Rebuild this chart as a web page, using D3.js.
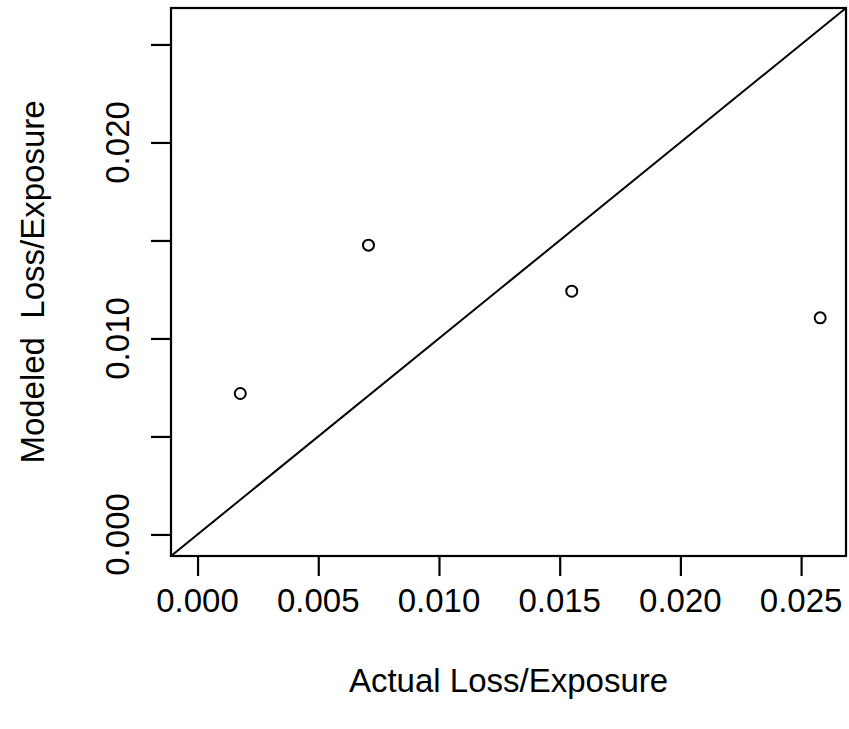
<!DOCTYPE html>
<html><head><meta charset="utf-8">
<script src="https://cdn.jsdelivr.net/npm/d3@7"></script>
<style>
html,body{margin:0;padding:0;background:#fff;}
text{font-family:"Liberation Sans",Arial,sans-serif;fill:#000;}
</style></head>
<body>
<svg id="chart" width="849" height="729"></svg>
<script>
const actual = [0.00177, 0.00708, 0.01550, 0.02579];
const modeled = [0.00719, 0.01476, 0.01241, 0.01105];
const axisLimits = [-0.0011, 0.02686];
const xTicks = [0, 0.005, 0.010, 0.015, 0.020, 0.025];
const yTicks = [0, 0.005, 0.010, 0.015, 0.020, 0.025];
const yTickLabels = [0, 0.010, 0.020];
const xTitle = "Actual Loss/Exposure";
const yTitle = "Modeled  Loss/Exposure";

const svg = d3.select("#chart");
const L = 171, R = 846, T = 8, B = 556;
const x = d3.scaleLinear().domain(axisLimits).range([L, R]);
const y = d3.scaleLinear().domain(axisLimits).range([B, T]);
const fmt = d3.format(".3f");
const fs = 33;

// x axis
const xa = svg.append("g").attr("transform", `translate(0,${B})`)
  .call(d3.axisBottom(x).tickValues(xTicks).tickSize(20).tickSizeOuter(0).tickFormat(""));
xa.select(".domain").remove();
xa.selectAll("line").attr("stroke", "#000").attr("stroke-width", 2.2);
svg.append("line").attr("x1", x(xTicks[0])).attr("x2", x(xTicks[xTicks.length-1]))
  .attr("y1", B).attr("y2", B).attr("stroke", "#000").attr("stroke-width", 2.2);
svg.append("g").selectAll("text").data(xTicks).join("text")
  .attr("x", d => x(d)).attr("y", 612).attr("text-anchor", "middle")
  .attr("font-size", fs).text(d => fmt(d));

// y axis
const ya = svg.append("g").attr("transform", `translate(${L},0)`)
  .call(d3.axisLeft(y).tickValues(yTicks).tickSize(20).tickSizeOuter(0).tickFormat(""));
ya.select(".domain").remove();
ya.selectAll("line").attr("stroke", "#000").attr("stroke-width", 2.2);
svg.append("g").selectAll("text").data(yTickLabels).join("text")
  .attr("transform", d => `translate(129,${y(d)}) rotate(-90)`)
  .attr("text-anchor", "middle").attr("font-size", fs).text(d => fmt(d));

// box
svg.append("rect").attr("x", L).attr("y", T).attr("width", R - L).attr("height", B - T)
  .attr("fill", "none").attr("stroke", "#000").attr("stroke-width", 2.2);

// identity line
svg.append("line")
  .attr("x1", x(axisLimits[0])).attr("y1", y(axisLimits[0]))
  .attr("x2", x(axisLimits[1])).attr("y2", y(axisLimits[1]))
  .attr("stroke", "#000").attr("stroke-width", 2);

// points
svg.append("g").selectAll("circle").data(actual.map((a, i) => [a, modeled[i]])).join("circle")
  .attr("cx", d => x(d[0])).attr("cy", d => y(d[1])).attr("r", 5.5)
  .attr("fill", "none").attr("stroke", "#000").attr("stroke-width", 2);

// titles
svg.append("text").attr("x", (L + R) / 2).attr("y", 692).attr("text-anchor", "middle")
  .attr("font-size", fs).text(xTitle);
svg.append("text").attr("transform", `translate(44,${(T + B) / 2}) rotate(-90)`)
  .attr("text-anchor", "middle").attr("font-size", fs).attr("xml:space", "preserve")
  .style("white-space", "pre").text(yTitle);
</script>
</body></html>
